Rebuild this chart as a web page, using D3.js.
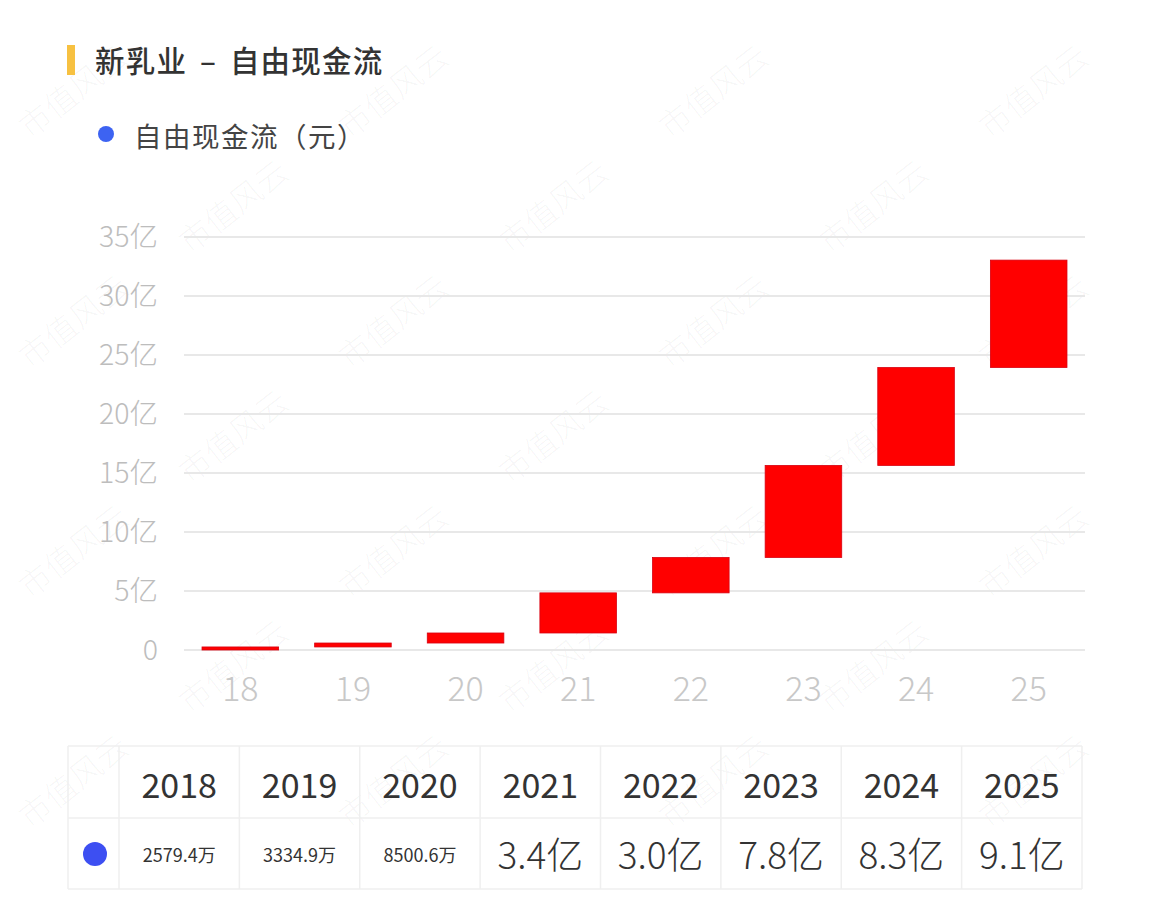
<!DOCTYPE html>
<html><head><meta charset="utf-8">
<script src="https://cdn.jsdelivr.net/npm/d3@7"></script>
<style>
html,body{margin:0;padding:0;background:#fff;}
svg{display:block;font-family:"Noto Sans CJK SC","Noto Sans",sans-serif;}
</style></head>
<body>
<svg id="chart" width="1153" height="912"></svg>
<script>
const titleText = "新乳业 – 自由现金流";
const legendText = "自由现金流（元）";
const years = ["2018","2019","2020","2021","2022","2023","2024","2025"];
const xLabels = ["18","19","20","21","22","23","24","25"];
const valuesYi = [0.25794, 0.33349, 0.85006, 3.4, 3.0, 7.8, 8.3, 9.1];
const tableLabels = ["2579.4万","3334.9万","8500.6万","3.4亿","3.0亿","7.8亿","8.3亿","9.1亿"];
const yTicks = [0,5,10,15,20,25,30,35];

const svg = d3.select("#chart");

// watermark (kept fully inside the picture)
const wm = svg.append("g").attr("fill","#000").attr("fill-opacity",0.04)
  .attr("font-size",32).attr("font-weight",300);
for (let r=0; r<8; r++){
  for (let c=0; c<4; c++){
    const x = c*320 + (r%2)*160 + 30;
    const y = r*115 + 140;
    if (x < 10 || x + 120 > 1140 || y > 900 || y - 90 < 5) continue;
    wm.append("text").attr("transform",`translate(${x},${y}) rotate(-38)`).text("市值风云");
  }
}

// title
svg.append("rect").attr("x",67).attr("y",45).attr("width",8).attr("height",30).attr("fill","#f7c141");
svg.append("text").attr("x",95).attr("y",72).attr("font-size",29.5).attr("font-weight",500)
  .attr("letter-spacing",1.2).attr("word-spacing",5).attr("fill","#333").text(titleText);

// legend
svg.append("circle").attr("cx",106).attr("cy",134).attr("r",8).attr("fill","#3d63f2");
svg.append("text").attr("x",134).attr("y",147).attr("font-size",27.5).attr("letter-spacing",1.5).attr("fill","#444").text(legendText);

// scales
const x = d3.scaleBand().domain(xLabels).range([184,1085]).paddingInner(0.32).paddingOuter(0.16);
const y = d3.scaleLinear().domain([0,35]).range([650,237]);

// grid
const grid = svg.append("g");
grid.selectAll("line").data(yTicks).join("line")
  .attr("x1",184).attr("x2",1085).attr("y1",d=>y(d)).attr("y2",d=>y(d))
  .attr("stroke","#e8e8e8").attr("stroke-width",2);

// y axis labels
const yAxis = d3.axisLeft(y).tickValues(yTicks).tickSize(0).tickPadding(0)
  .tickFormat(d => d===0 ? "0" : d+"亿");
const ya = svg.append("g").attr("transform","translate(158,0)").call(yAxis);
ya.select(".domain").remove();
ya.selectAll("text").attr("font-size",28.5).attr("fill","#bdbdbd").attr("font-family","'Noto Sans CJK SC',sans-serif").attr("font-weight",300);

// x axis labels
const xAxis = d3.axisBottom(x).tickSize(0).tickPadding(0);
const xa = svg.append("g").attr("transform","translate(0,677)").call(xAxis);
xa.select(".domain").remove();
xa.selectAll("text").attr("font-size",34).attr("fill","#c8c8c8").attr("font-family","'Noto Sans CJK SC',sans-serif").attr("font-weight",300);

// waterfall bars
let cum = 0;
const bars = valuesYi.map((v,i)=>{ const s=cum; cum+=v; return {k:xLabels[i], start:s, end:cum}; });
svg.append("g").selectAll("rect").data(bars).join("rect")
  .attr("x",d=>x(d.k)).attr("width",x.bandwidth())
  .attr("y",d=>y(d.end)).attr("height",d=>Math.max(3, y(d.start)-y(d.end)))
  .attr("fill","#ff0000").attr("stroke","#d80010").attr("stroke-width",0.8);

// table
const tx0 = 68, tx1 = 119, tx2 = 1082;
const colW = (tx2-tx1)/years.length;
const ty0 = 746, ty1 = 818, ty2 = 889;
const tb = svg.append("g");
const lineC = "#efefef";
[ty0,ty1,ty2].forEach(yy => tb.append("line").attr("x1",tx0).attr("x2",tx2).attr("y1",yy).attr("y2",yy).attr("stroke",lineC).attr("stroke-width",1.5));
const vx = [tx0, tx1].concat(years.map((d,i)=>tx1+colW*(i+1)));
vx.forEach(xx => tb.append("line").attr("x1",xx).attr("x2",xx).attr("y1",ty0).attr("y2",ty2).attr("stroke",lineC).attr("stroke-width",1.5));
tb.selectAll("text.h").data(years).join("text").attr("class","h")
  .attr("x",(d,i)=>tx1+colW*(i+0.5)).attr("y",798).attr("text-anchor","middle")
  .attr("font-size",34).attr("fill","#333").attr("font-family","'Noto Sans CJK SC',sans-serif").text(d=>d);
tb.append("circle").attr("cx",95).attr("cy",854).attr("r",12).attr("fill","#3d4ff2");
tb.selectAll("text.v").data(tableLabels).join("text").attr("class","v")
  .attr("x",(d,i)=>tx1+colW*(i+0.5))
  .attr("y",d=> d.endsWith("万") ? 862 : 869).attr("text-anchor","middle")
  .attr("font-size",d=> d.endsWith("万") ? 18 : 37)
  .attr("font-weight",d=> d.endsWith("万") ? 400 : 300)
  .attr("fill","#333").text(d=>d);
</script>
</body></html>
